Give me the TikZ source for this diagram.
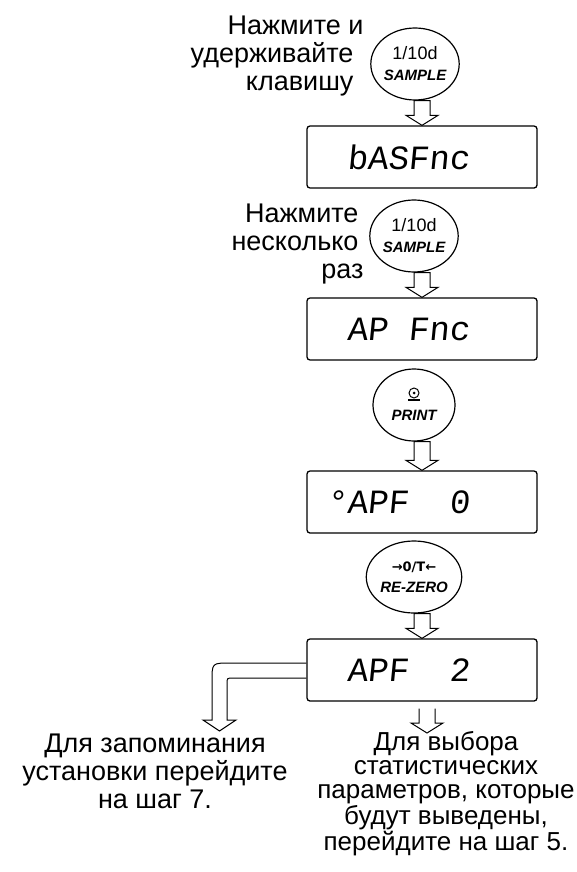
\documentclass[tikz,border=0pt]{standalone}
\usepackage{fontspec}
\setmainfont{Liberation Sans}
\newfontfamily\lcdfont[FakeSlant=0.1]{Liberation Mono}
\newfontfamily\symfont{DejaVu Sans}
\usetikzlibrary{shapes.geometric,calc}
\tikzset{
  lcd/.style={draw, line width=1.3pt, rounded corners=3pt, minimum height=62pt,
    text width=150pt, inner xsep=40pt, align=left, font=\lcdfont\fontsize{34}{34}\selectfont},
  btn/.style={draw, ellipse, line width=1.2pt, minimum width=82pt, minimum height=72pt,
    inner sep=0pt, align=center, font=\fontsize{15}{21}\selectfont},
  note/.style={font=\fontsize{27}{28}\selectfont},
  hollow/.style={line width=1pt, line join=miter},
  block/.style={hollow, to path={let \p1=(\tikztostart), \p2=(\tikztotarget) in
    (\x1-8pt,\y1) -- (\x1-8pt,\y2+10pt) -- (\x1-16pt,\y2+10pt) -- (\x2,\y2)
    -- (\x1+16pt,\y2+10pt) -- (\x1+8pt,\y2+10pt) -- (\x1+8pt,\y1) -- cycle}},
  openblock/.style={hollow, to path={let \p1=(\tikztostart), \p2=(\tikztotarget) in
    (\x1-8pt,\y1) -- (\x1-8pt,\y2+10pt) -- (\x1-16pt,\y2+10pt) -- (\x2,\y2)
    -- (\x1+16pt,\y2+10pt) -- (\x1+8pt,\y2+10pt) -- (\x1+8pt,\y1)}}
}
\begin{document}
\begin{tikzpicture}[x=1pt,y=-1pt]
    \useasboundingbox (0,0) rectangle (576,872);
    \node[note, align=right, anchor=base east] (t1) at (357,91) {Нажмите и\hspace*{-10pt}\\удерживайте\\клавишу};
    \node[btn] (e1) at (415,64) {{\fontsize{18}{21}\selectfont 1/10d}\\\bfseries\itshape SAMPLE};
    \node[lcd] (b1) at (422,157) {bASFnc};
    \node[note, align=right, anchor=base east] (t2) at (362,278) {Нажмите\\несколько\\раз\hspace*{-5pt}};
    \node[btn] (e2) at (414,236) {{\fontsize{18}{21}\selectfont 1/10d}\\\bfseries\itshape SAMPLE};
    \node[lcd] (b2) at (422,329) {AP\phantom{x}Fnc};
    \node[btn] (e3) at (414,405) {\phantom{0}\\\bfseries\itshape PRINT};
    \node[lcd] (b3) at (422,502) {\llap{°}APF\phantom{xx}0};
    \node[btn] (e4) at (414,577) {{\symfont\bfseries\fontsize{13}{21}\selectfont →0/T←}\\\bfseries\itshape RE-ZERO};
    \node[lcd] (b4) at (422,670) {APF\phantom{xx}2};
    \node[note, align=center, anchor=base] (tl) at (155,808) {Для запоминания\\установки перейдите\\на шаг 7.};
    \node[note, align=center, anchor=base, font=\fontsize{26}{24}\selectfont] (tr) at (446,850)
      {Для выбора\\статистических\\параметров, которые\\будут выведены,\\перейдите на шаг 5.};
    \coordinate (k7) at (219.5,731);
    \coordinate (k5) at (427,733);
    \draw[line width=1pt] ($(e3.center)+(0,-12)$) circle (5pt);
    \fill ($(e3.center)+(0,-12)$) circle (1.5pt);
    \draw[line width=1.2pt] ($(e3.center)+(-6,-5)$) -- ++(12,0);
    \draw[block] (e1.south -| b1.north) to (b1.north);
    \draw[block] (e2.south -| b2.north) to (b2.north);
    \draw[block] (e3.south -| b3.north) to (b3.north);
    \draw[block] (e4.south -| b4.north) to (b4.north);
    \draw[openblock] ($(b4.south)+(5,7)$) to (k5);
    \draw[hollow] ($(b4.west)+(0,-7)$) -- (230,663) .. controls (212,663) .. (212,681) -- (212,720)
      -- (203,720) -- (k7) -- (236,720) -- (227,720) -- (227,684) .. controls (227,678) .. (233,678)
      -- ($(b4.west)+(0,8)$);
\end{tikzpicture}
\end{document}
